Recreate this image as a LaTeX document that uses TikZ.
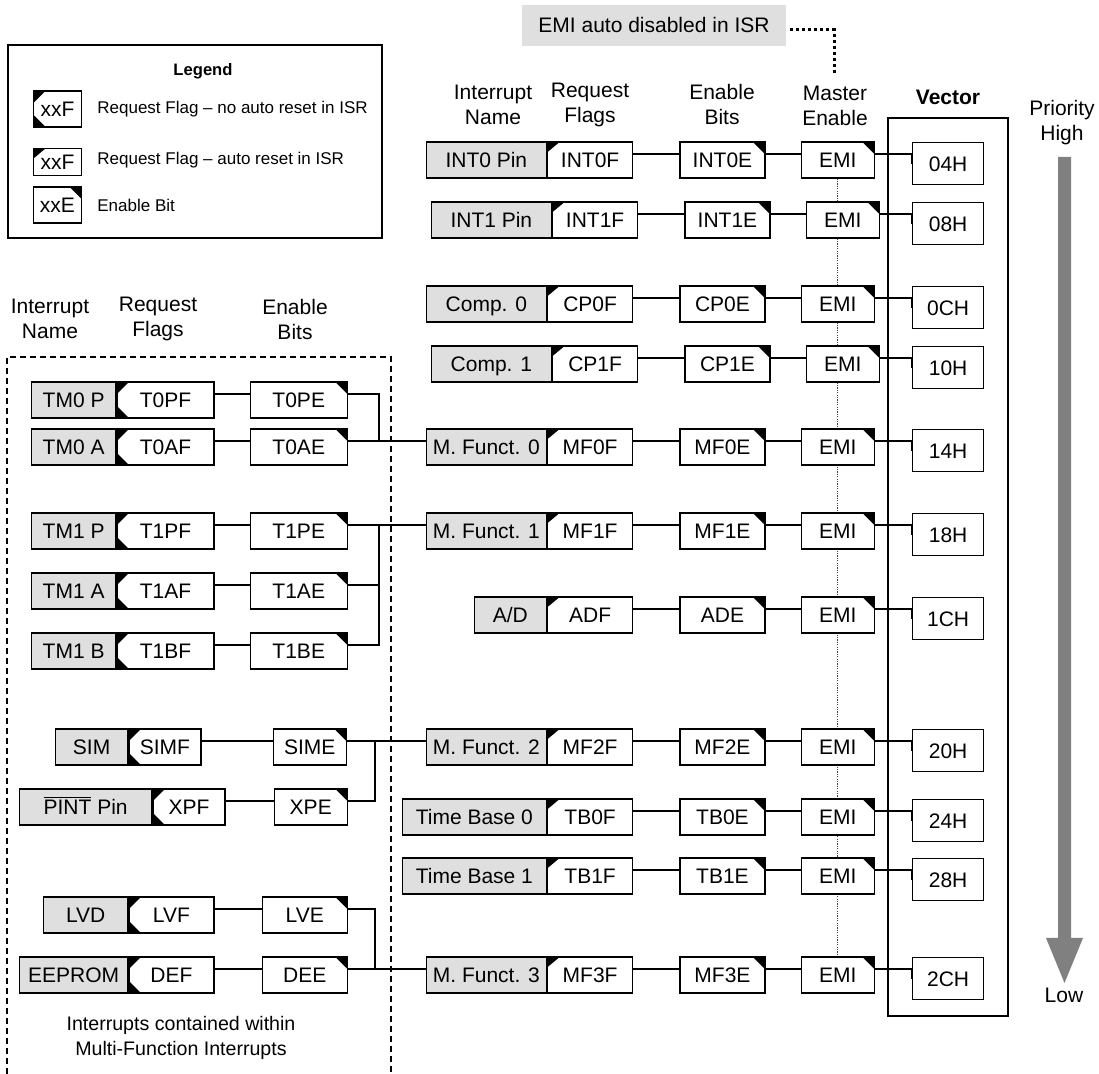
\documentclass[tikz,border=0pt]{standalone}
\usepackage{fontspec}
\setmainfont{Liberation Sans}
\usetikzlibrary{positioning,backgrounds}

\begin{document}
\begin{tikzpicture}[x=0.5pt, y=-0.5pt,
  every node/.style={font=\fontsize{10.5}{12.5}\selectfont, inner sep=0pt},
  box/.style={draw, fill=white, line width=0.65pt, minimum height=18pt, text height=7.6pt, text depth=0pt},
  namebox/.style={box, fill=gray!25},
  flagauto/.style={box, path picture={\fill[black] (path picture bounding box.north west) -- ++(6pt,0) -- ++(-6pt,-5pt) -- cycle;}},
  flagnoauto/.style={box, path picture={
      \fill[black] (path picture bounding box.north west) -- ++(6pt,0) -- ++(-6pt,-6pt) -- cycle;
      \fill[black] (path picture bounding box.south west) -- ++(6pt,0) -- ++(-6pt,6pt) -- cycle;}},
  enbit/.style={box, path picture={\fill[black] (path picture bounding box.north east) -- ++(-6pt,0) -- ++(6pt,-6pt) -- cycle;}},
  wire/.style={line width=0.65pt},
  legtext/.style={font=\fontsize{8.5}{10}\selectfont, anchor=west}]
  \useasboundingbox (0,0) rectangle (1099,1074);

  % legend
  \draw[line width=1pt] (8,45) rectangle (382,238);
  \node[font=\bfseries\fontsize{8.3}{10}\selectfont] (legtitle) at (203,71) {Legend};
  \node[flagnoauto, minimum width=24pt] (leg1) at (57.5,109) {xxF};
  \node[flagauto, minimum width=24pt, minimum height=13.5pt] (leg2) at (57.5,162) {xxF};
  \node[enbit, minimum width=24pt] (leg3) at (57.5,205) {xxE};
  \node[legtext] (leg1txt) at (97,109) {Request Flag – no auto reset in ISR};
  \node[legtext] (leg2txt) at (97,160) {Request Flag – auto reset in ISR};
  \node[legtext] (leg3txt) at (97,205) {Enable Bit};

  % headers
  \node[align=center] (lname) at (50,319) {Interrupt\\Name};
  \node[align=center] (lflag) at (158,319) {Request\\Flags};
  \node[align=center] (lenab) at (295,319) {Enable\\Bits};
  \node[align=center] (rname) at (493,105) {Interrupt\\Name};
  \node[align=center] (rflag) at (590,105) {Request\\Flags};
  \node[align=center] (renab) at (722,105) {Enable\\Bits};
  \node[align=center] (rmast) at (835,106) {Master\\Enable};
  \node[font=\bfseries\fontsize{10.5}{12.5}\selectfont] (rvec) at (948,97) {Vector};
  \node[align=center] (prihigh) at (1062,123) {Priority\\High};
  \node (prilow) at (1064,995) {Low};

  % EMI note
  \node[fill=gray!25, minimum width=132pt, minimum height=20.4pt] (emiauto) at (654,25.5) {EMI auto disabled in ISR};
  \coordinate (emifoot) at (834,75);
  \draw[line width=1.5pt, dash pattern=on 1.5pt off 1.5pt] ([xshift=2pt,yshift=-2pt]emiauto.east) -| (emifoot);

  % multi-function area and vector frame
  \draw[line width=0.6pt, dash pattern=on 3pt off 2pt] (7,1074) -- (7,357) -- (391,357) -- (391,1074);
  \draw[line width=0.65pt] (888,118) rectangle (1008,1016);
  \fill[gray] (1058,157) -- (1071,157) -- (1071,938) -- (1083,938) -- (1064.5,983) -- (1046,938) -- (1058,938) -- cycle;
  \node[align=center, font=\fontsize{9.8}{12.5}\selectfont] (mfnote) at (181,1038) {Interrupts contained within\\Multi-Function Interrupts};

  % main interrupts
  \foreach \id/\nm/\fl/\en/\vc/\yc/\xl/\dx in {
      int0/INT0 Pin/INT0F/INT0E/04H/160/427/0,
      int1/INT1 Pin/INT1F/INT1E/08H/220/432/5,
      cp0/Comp. 0/CP0F/CP0E/0CH/304/427/0,
      cp1/Comp. 1/CP1F/CP1E/10H/364/432/5,
      mf0/M. Funct. 0/MF0F/MF0E/14H/447/427/0,
      mf1/M. Funct. 1/MF1F/MF1E/18H/531/427/0,
      ad/{A/D}/ADF/ADE/1CH/615/475/0,
      mf2/M. Funct. 2/MF2F/MF2E/20H/747/427/0,
      tb0/Time Base 0/TB0F/TB0E/24H/817/403/0,
      tb1/Time Base 1/TB1F/TB1E/28H/876/403/0,
      mf3/M. Funct. 3/MF3F/MF3E/2CH/975/427/0} {
    \node[namebox, anchor=east, minimum width={(547+\dx-\xl)*0.5pt}] (\id-name) at (547+\dx,\yc) {\nm};
    \node[flagauto, anchor=west, minimum width=42.5pt] (\id-flag) at (\id-name.east) {\fl};
    \node[enbit, right=23pt of \id-flag, minimum width=42.5pt] (\id-en) {\en};
    \node[enbit, right=17.5pt of \id-en, minimum width=36.5pt] (\id-emi) {EMI};
    \node[box, anchor=north west, minimum width=35.5pt, minimum height=21pt] (\id-vec) at (912,\yc-18) {\vc};
    \draw[wire] ([yshift=3pt]\id-flag.east) -- ([yshift=3pt]\id-en.west);
    \draw[wire] ([yshift=3pt]\id-en.east) -- ([yshift=3pt]\id-emi.west);
    \draw[wire] ([yshift=3pt]\id-emi.east) -| (\id-vec.west);
  }
  \begin{scope}[on background layer]
    \draw[line width=0.4pt, black!75, dash pattern=on 0.6pt off 0.6pt] (int0-emi.south) -- (mf3-emi.north);
  \end{scope}

  % interrupts inside the multi-function ones
  \foreach \id/\nm/\fl/\en/\yc/\xl/\wn/\wf/\gap/\we in {
      tm0p/TM0 P/T0PF/T0PE/400/31/84/97/35/97,
      tm0a/TM0 A/T0AF/T0AE/447/31/84/97/35/97,
      tm1p/TM1 P/T1PF/T1PE/531/31/84/97/35/97,
      tm1a/TM1 A/T1AF/T1AE/591/31/84/97/35/97,
      tm1b/TM1 B/T1BF/T1BE/651/31/84/97/35/97,
      sim/SIM/SIMF/SIME/747/55/72/72/71/73,
      pint/{$\overline{\mbox{PINT}}$ Pin}/XPF/XPE/807/19/132/72/48/73,
      lvd/LVD/LVF/LVE/915/43/84/85/47/85,
      eeprom/EEPROM/DEF/DEE/975/19/108/85/47/85} {
    \node[namebox, anchor=west, minimum width={\wn*0.5pt}] (\id-name) at (\xl,\yc) {\nm};
    \node[flagnoauto, anchor=west, minimum width={\wf*0.5pt}] (\id-flag) at (\id-name.east) {\fl};
    \node[enbit, right={\gap*0.5pt} of \id-flag, minimum width={\we*0.5pt}] (\id-en) {\en};
    \draw[wire] ([yshift=3pt]\id-flag.east) -- ([yshift=3pt]\id-en.west);
  }

  \coordinate (bus0) at (379,441);
  \coordinate (bus1) at (379,525);
  \coordinate (bus2) at (375,741);
  \coordinate (bus3) at (375,969);
  \draw[wire] ([yshift=3pt]tm0p-en.east) -| (bus0);
  \draw[wire] ([yshift=3pt]tm0a-en.east) -- ([yshift=3pt]mf0-name.west);
  \draw[wire] ([yshift=3pt]tm1p-en.east) -- ([yshift=3pt]mf1-name.west);
  \draw[wire] ([yshift=3pt]tm1a-en.east) -| (bus1);
  \draw[wire] ([yshift=3pt]tm1b-en.east) -| (bus1);
  \draw[wire] ([yshift=3pt]sim-en.east) -- ([yshift=3pt]mf2-name.west);
  \draw[wire] ([yshift=3pt]pint-en.east) -| (bus2);
  \draw[wire] ([yshift=3pt]eeprom-en.east) -- ([yshift=3pt]mf3-name.west);
  \draw[wire] ([yshift=3pt]lvd-en.east) -| (bus3);
\end{tikzpicture}
\end{document}
